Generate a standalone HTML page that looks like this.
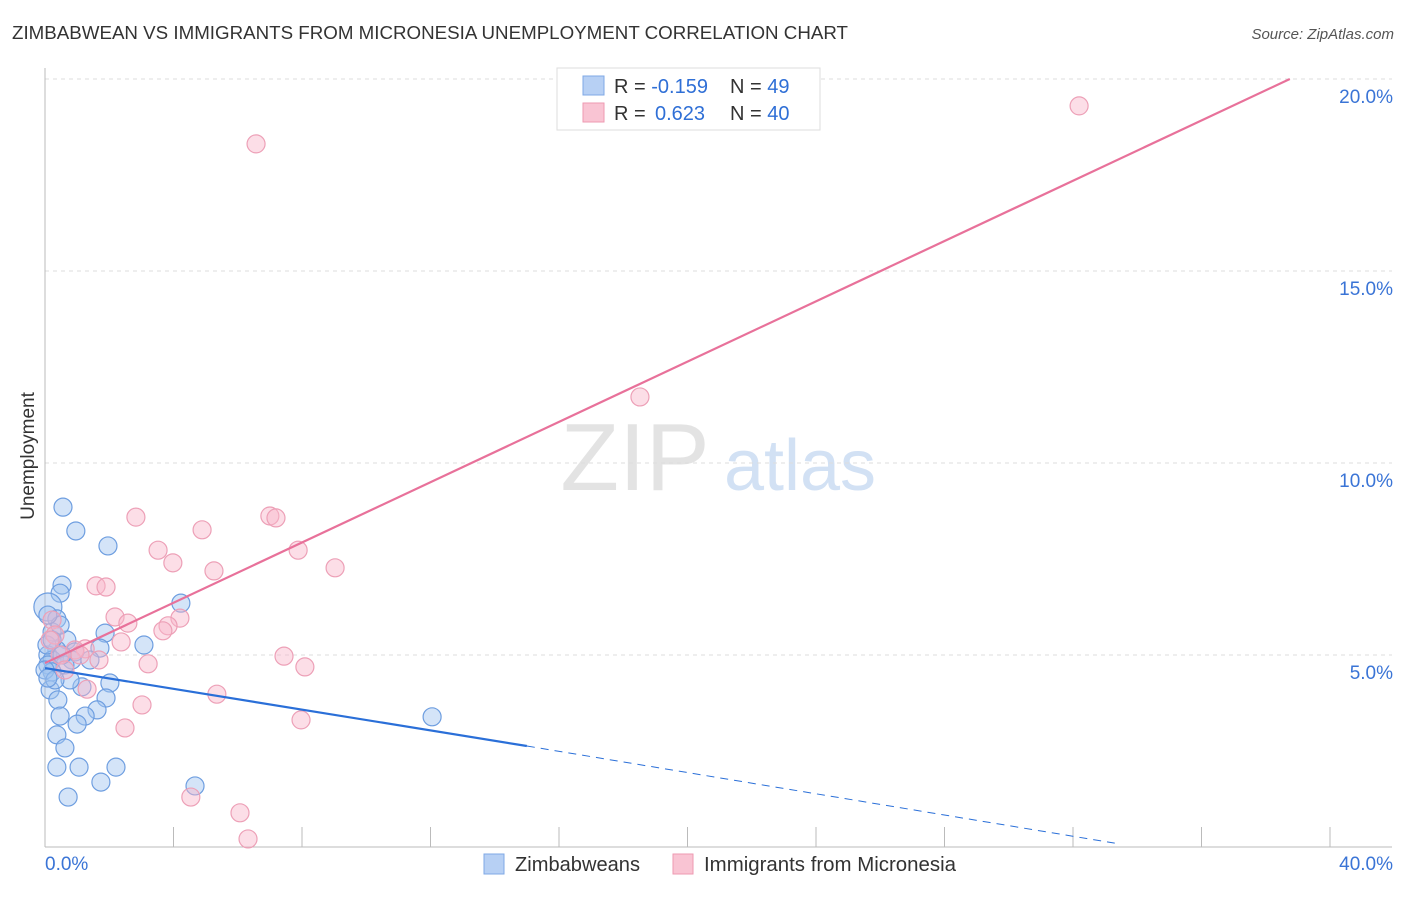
<!DOCTYPE html>
<html><head><meta charset="utf-8"><style>
body{margin:0;background:#fff;font-family:"Liberation Sans",sans-serif;}
svg text{font-family:"Liberation Sans",sans-serif;}
</style></head><body>
<svg id="chart" width="1406" height="892" viewBox="0 0 1406 892">
<text x="12" y="39" font-size="18" fill="#333" textLength="836" lengthAdjust="spacingAndGlyphs">ZIMBABWEAN VS IMMIGRANTS FROM MICRONESIA UNEMPLOYMENT CORRELATION CHART</text>
<text x="1394" y="39" font-size="15" fill="#555" text-anchor="end" font-style="italic">Source: ZipAtlas.com</text>
<text x="34" y="456" font-size="19" fill="#333" text-anchor="middle" transform="rotate(-90 34 456)">Unemployment</text>
<g>
<text x="635" y="490" font-size="96" fill="#ddd" text-anchor="middle" font-family="Liberation Serif,serif" opacity="0.8">ZIP</text>
<text x="800" y="490" font-size="72" fill="#c8daf2" text-anchor="middle" opacity="0.8">atlas</text>
</g>
<g id="grid"></g><g id="axes"></g><g id="pts"></g><g id="trend"></g>
<g>
<rect x="557" y="68" width="263" height="62" fill="#fff" stroke="#ddd"/>
<rect x="583" y="76" width="21" height="19" fill="#b7d0f4" stroke="#7fa8e6"/>
<rect x="583" y="103" width="21" height="19" fill="#f9c4d3" stroke="#ee9ab2"/>
<text x="614" y="93" font-size="20" fill="#333">R = <tspan fill="#2f6fd6">-0.159</tspan><tspan x="730">N = </tspan><tspan fill="#2f6fd6">49</tspan></text>
<text x="614" y="120" font-size="20" fill="#333">R = <tspan fill="#2f6fd6" x="655">0.623</tspan><tspan x="730">N = </tspan><tspan fill="#2f6fd6">40</tspan></text>
</g>
<g>
<rect x="484" y="854" width="20" height="20" fill="#b7d0f4" stroke="#7fa8e6"/>
<text x="515" y="871" font-size="20" fill="#333" textLength="125" lengthAdjust="spacingAndGlyphs">Zimbabweans</text>
<rect x="673" y="854" width="20" height="20" fill="#f9c4d3" stroke="#ee9ab2"/>
<text x="704" y="871" font-size="20" fill="#333" textLength="252" lengthAdjust="spacingAndGlyphs">Immigrants from Micronesia</text>
</g>
</svg>
<script>
const xTicks=[0,4,8,12,16,20,24,28,32,36,40];
const yTicks=[5,10,15,20];
const yTickLabels=["5.0%","10.0%","15.0%","20.0%"];
const blueX=[0.56,0.96,1.96,0.53,0.47,4.23,0.09,0.37,0.22,1.87,0.68,3.08,1.71,0.37,0.93,0.09,0.22,0.84,0.62,0.09,0.22,2.02,1.15,0.78,0.16,0.40,1.90,1.62,1.25,0.47,1.00,0.37,0.62,0.37,1.06,2.21,1.74,4.67,0.72,12.05,0.06,0.0,0.31,1.40,0.53,0.09,0.22,0.47,0.09];
const blueY=[8.85,8.23,7.84,6.82,6.61,6.35,6.25,5.94,5.60,5.57,5.39,5.26,5.18,5.13,5.08,5.00,4.87,4.87,4.74,4.74,4.56,4.27,4.17,4.35,4.09,3.83,3.88,3.57,3.41,3.41,3.20,2.92,2.58,2.08,2.08,2.08,1.69,1.59,1.30,3.39,5.26,4.61,4.35,4.87,5.00,4.40,5.39,5.78,6.04];
const pinkX=[32.19,6.57,18.52,2.83,7.00,7.19,4.89,3.52,7.88,3.98,5.26,9.03,1.59,1.90,2.18,4.20,3.83,3.67,2.58,2.37,1.25,0.22,0.31,0.93,0.47,3.21,7.44,8.09,1.68,1.31,5.35,3.02,7.97,2.49,4.54,6.07,6.32,0.16,0.62,1.09];
const pinkY=[19.30,18.31,11.72,8.59,8.62,8.57,8.26,7.73,7.73,7.40,7.19,7.27,6.80,6.77,5.99,5.96,5.76,5.63,5.83,5.34,5.16,5.91,5.52,5.13,5.00,4.77,4.97,4.69,4.87,4.11,3.98,3.70,3.31,3.10,1.30,0.89,0.21,5.39,4.61,5.00];
const blueTrend=[[0,4.66],[15.0,2.63],[33.3,0.1]];
const pinkTrend=[[0,4.79],[38.75,20]];
const NS="http://www.w3.org/2000/svg";
const X=v=>45+v*32.125, Y=v=>847-v*38.4;
function mk(tag,attrs,parent){const e=document.createElementNS(NS,tag);for(const k in attrs)e.setAttribute(k,attrs[k]);document.getElementById(parent).appendChild(e);return e;}
yTicks.forEach((t,i)=>{
 const g=mk('line',{x1:45,x2:1392,y1:Y(t),y2:Y(t),stroke:'#ddd','stroke-dasharray':'4,4'},'grid');
 
 
 const l=mk('text',{x:1393,y:Y(t)+24,'font-size':19,fill:'#3a74d6','text-anchor':'end'},'axes');
 l.textContent=yTickLabels[i];
 
 
});
let a=mk('line',{x1:45,x2:45,y1:68,y2:847,stroke:'#bbb'},'axes');


a=mk('line',{x1:45,x2:1392,y1:847,y2:847,stroke:'#bbb'},'axes');


xTicks.forEach(t=>{
 const e=mk('line',{x1:X(t),x2:X(t),y1:827,y2:847,stroke:'#bbb'},'axes');
 
 
});
let t=mk('text',{x:45,y:870,'font-size':19,fill:'#3a74d6'},'axes');t.textContent='0.0%';


t=mk('text',{x:1393,y:870,'font-size':19,fill:'#3a74d6','text-anchor':'end'},'axes');t.textContent='40.0%';


blueX.forEach((v,i)=>{
 const c=mk('circle',{cx:X(v),cy:Y(blueY[i]),r:i==6?14:9,fill:'rgba(160,196,240,0.45)',stroke:'#6e9ee0','stroke-width':1.2},'pts');
 
 
});
pinkX.forEach((v,i)=>{
 const c=mk('circle',{cx:X(v),cy:Y(pinkY[i]),r:9,fill:'rgba(248,182,202,0.45)',stroke:'#eda0b7','stroke-width':1.2},'pts');
 
 
});
let l=mk('line',{x1:X(pinkTrend[0][0]),y1:Y(pinkTrend[0][1]),x2:X(pinkTrend[1][0]),y2:Y(pinkTrend[1][1]),stroke:'#e8719a','stroke-width':2.2},'trend');


l=mk('line',{x1:X(blueTrend[0][0]),y1:Y(blueTrend[0][1]),x2:X(blueTrend[1][0]),y2:Y(blueTrend[1][1]),stroke:'#2a6fd8','stroke-width':2.2},'trend');


l=mk('line',{x1:X(blueTrend[1][0]),y1:Y(blueTrend[1][1]),x2:X(blueTrend[2][0]),y2:Y(blueTrend[2][1]),stroke:'#2a6fd8','stroke-width':1,'stroke-dasharray':'8,6'},'trend');


</script>
</body></html>
